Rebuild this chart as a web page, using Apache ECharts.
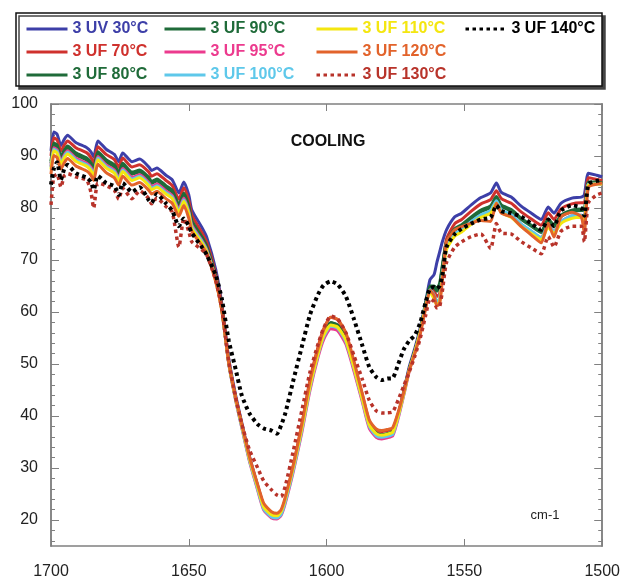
<!DOCTYPE html>
<html>
<head>
<meta charset="utf-8">
<script src="https://cdn.jsdelivr.net/npm/echarts@6/dist/echarts.min.js"></script>
<style>
  html, body { margin: 0; padding: 0; background: #fff; }
  #chart { width: 623px; height: 580px; }
</style>
</head>
<body>
<div id="chart"></div>
<script>
// wavenumber grid (cm-1)
const wavenumbers = [
  1700, 1699, 1697.8, 1696.4, 1695.2, 1694, 1691, 1687, 1685.5, 1684.5,
  1683, 1680, 1677, 1675.4, 1674, 1670.6, 1667.8, 1664.5, 1663.5, 1661.6,
  1658.3, 1656, 1653.6, 1651.8, 1650, 1648.9, 1645.3, 1643.5, 1640.2, 1638,
  1635.5, 1633, 1630.8, 1628, 1625, 1622.8, 1620, 1618, 1616.5, 1615,
  1612, 1609, 1606, 1603, 1601, 1598.5, 1596, 1593, 1590, 1587,
  1584.5, 1582, 1580, 1578, 1576, 1574, 1572, 1570, 1568, 1566,
  1564, 1562.5, 1561, 1560, 1559, 1558, 1556.5, 1553.5, 1551, 1547.5,
  1544, 1540.5, 1538.4, 1536.6, 1533, 1529.3, 1525.7, 1522.1, 1519.6, 1517.5,
  1515, 1511, 1507.6, 1506.5, 1505, 1502, 1500
];

const uv30 = [
  91.0, 94.6, 94.2, 92.0, 93.2, 94.0, 92.6, 91.6, 90.8, 89.8,
  92.9, 91.3, 90.3, 88.9, 90.6, 88.9, 89.4, 87.9, 87.2, 87.7,
  86.3, 85.4, 82.9, 85.0, 82.5, 79.6, 76.3, 74.4, 68.1, 61.5,
  51.0, 44.0, 38.8, 32.3, 26.6, 22.8, 20.8, 20.5, 21.3, 23.8,
  30.3, 37.8, 46.2, 52.5, 55.6, 57.9, 57.5, 55.0, 49.5, 43.5,
  38.6, 36.6, 36.2, 36.5, 36.8, 40.2, 44.8, 49.5, 53.0, 57.0,
  62.0, 66.2, 67.2, 69.5, 71.5, 73.5, 75.8, 78.3, 79.0, 80.6,
  82.0, 82.9, 84.8, 83.0, 82.1, 80.3, 79.0, 77.8, 80.2, 79.0,
  80.9, 81.9, 82.1, 82.5, 86.7, 86.3, 86.0
];
const uf70 = [
  90.0, 93.5, 93.1, 91.0, 92.1, 92.9, 91.6, 90.6, 89.7, 88.7,
  91.8, 90.3, 89.3, 87.8, 89.6, 87.9, 88.3, 86.9, 86.1, 86.6,
  85.3, 84.3, 81.7, 83.9, 81.4, 78.6, 75.3, 73.4, 67.3, 61.0,
  50.5, 43.6, 38.5, 32.0, 26.5, 22.9, 21.2, 21.0, 21.6, 24.0,
  30.6, 38.3, 47.0, 53.5, 56.8, 59.0, 58.5, 55.8, 50.0, 44.0,
  39.0, 37.3, 37.0, 37.2, 37.5, 40.5, 44.5, 49.0, 52.5, 56.5,
  61.5, 64.8, 64.0, 63.0, 63.5, 68.0, 74.0, 77.0, 77.8, 79.4,
  80.8, 81.6, 83.3, 81.8, 80.9, 79.2, 77.9, 76.7, 79.1, 77.8,
  79.8, 80.8, 81.0, 81.0, 85.8, 85.5, 85.3
];
const uf80 = [
  89.0, 92.5, 92.1, 90.0, 91.1, 91.9, 90.6, 89.6, 88.7, 87.6,
  90.8, 89.3, 88.3, 86.8, 88.6, 86.9, 87.3, 85.9, 85.1, 85.6,
  84.3, 83.4, 80.7, 82.9, 80.4, 77.6, 74.5, 72.7, 66.8, 60.6,
  50.3, 43.4, 38.3, 31.8, 26.3, 22.5, 20.8, 20.6, 21.4, 23.8,
  30.2, 37.8, 46.3, 52.8, 56.0, 58.0, 57.5, 55.0, 49.5, 43.6,
  38.6, 36.7, 36.4, 36.6, 37.0, 40.3, 44.5, 49.0, 52.5, 56.5,
  61.8, 65.0, 65.0, 64.5, 65.5, 69.0, 73.5, 76.0, 76.8, 78.3,
  79.6, 80.4, 82.2, 80.6, 79.7, 78.0, 76.7, 75.5, 77.9, 76.7,
  78.6, 79.6, 79.8, 79.8, 85.0, 85.0, 84.9
];
const uf90 = [
  88.6, 92.1, 91.7, 89.6, 90.7, 91.5, 90.2, 89.2, 88.3, 87.2,
  90.4, 88.9, 87.9, 86.4, 88.2, 86.5, 86.9, 85.5, 84.7, 85.2,
  83.9, 83.0, 80.3, 82.5, 80.0, 77.2, 74.2, 72.4, 66.6, 60.5,
  50.2, 43.3, 38.2, 31.7, 26.2, 22.4, 20.7, 20.5, 21.3, 23.7,
  30.1, 37.6, 46.1, 52.6, 55.8, 57.8, 57.3, 54.8, 49.3, 43.5,
  38.5, 36.6, 36.3, 36.5, 36.9, 40.2, 44.4, 48.9, 52.4, 56.4,
  61.6, 64.8, 64.7, 64.0, 65.0, 68.6, 73.2, 75.7, 76.5, 78.0,
  79.3, 80.1, 81.9, 80.3, 79.4, 77.8, 76.5, 75.3, 77.6, 76.4,
  78.3, 79.3, 79.5, 79.5, 84.8, 84.8, 84.7
];
const uf95 = [
  88.0, 91.6, 91.2, 89.0, 90.2, 91.0, 89.6, 88.6, 87.8, 86.6,
  89.9, 88.3, 87.3, 85.8, 87.6, 85.9, 86.4, 84.9, 84.1, 84.6,
  83.3, 82.4, 79.8, 81.9, 79.4, 76.7, 73.8, 72.0, 66.3, 60.4,
  50.0, 43.0, 37.8, 31.3, 25.7, 21.9, 20.4, 20.2, 20.9, 23.2,
  29.5, 36.8, 45.0, 51.5, 54.8, 56.8, 56.4, 53.8, 48.5, 42.6,
  37.6, 35.9, 35.6, 35.8, 36.2, 39.6, 44.0, 48.6, 52.2, 56.2,
  61.2, 64.2, 63.2, 62.0, 62.5, 67.0, 72.5, 75.0, 75.7, 77.3,
  78.6, 79.4, 81.3, 79.5, 78.6, 76.8, 75.5, 74.3, 76.7, 75.5,
  77.4, 78.5, 78.6, 78.3, 84.6, 84.6, 84.5
];
const uf100 = [
  87.8, 91.3, 90.9, 88.7, 89.9, 90.7, 89.3, 88.3, 87.5, 86.3,
  89.6, 88.0, 87.0, 85.5, 87.3, 85.6, 86.1, 84.6, 83.8, 84.3,
  83.0, 82.1, 79.5, 81.6, 79.1, 76.4, 73.6, 71.8, 66.2, 60.3,
  50.0, 43.1, 37.9, 31.5, 25.9, 22.1, 20.6, 20.4, 21.1, 23.5,
  29.8, 37.2, 45.5, 52.0, 55.3, 57.3, 56.9, 54.3, 49.0, 43.0,
  38.0, 36.2, 35.9, 36.1, 36.5, 39.9, 44.2, 48.8, 52.3, 56.3,
  61.3, 64.3, 63.3, 62.0, 62.6, 67.2, 72.6, 75.1, 75.8, 77.4,
  78.7, 79.5, 81.4, 79.6, 78.7, 76.9, 75.6, 74.3, 76.7, 75.5,
  77.4, 78.5, 78.6, 78.3, 84.6, 84.6, 84.6
];
const uf110 = [
  87.4, 91.0, 90.6, 88.4, 89.6, 90.4, 89.0, 88.0, 87.2, 86.1,
  89.3, 87.7, 86.7, 85.2, 87.0, 85.3, 85.8, 84.3, 83.5, 84.0,
  82.7, 81.8, 79.2, 81.3, 78.8, 76.1, 73.3, 71.6, 66.0, 60.3,
  50.2, 43.3, 38.2, 31.8, 26.3, 22.5, 21.0, 20.8, 21.6, 24.0,
  30.3, 37.6, 45.8, 52.2, 55.6, 57.5, 57.1, 54.6, 49.2, 43.2,
  38.3, 36.6, 36.3, 36.5, 36.9, 40.1, 44.3, 48.8, 52.3, 56.2,
  61.2, 63.8, 62.5, 61.3, 62.0, 66.5, 72.0, 74.6, 75.4, 76.9,
  78.2, 79.0, 80.9, 79.1, 78.2, 76.4, 75.1, 73.9, 76.3, 75.1,
  77.0, 78.0, 78.2, 77.6, 84.4, 84.6, 84.6
];
const uf120 = [
  86.5, 90.1, 89.7, 87.5, 88.7, 89.5, 88.1, 87.1, 86.3, 85.3,
  88.4, 86.8, 85.8, 84.4, 86.1, 84.4, 84.9, 83.4, 82.7, 83.2,
  81.8, 80.9, 78.4, 80.5, 78.0, 75.5, 72.8, 71.2, 65.8, 60.2,
  50.2, 43.5, 38.5, 32.2, 26.8, 23.2, 21.6, 21.3, 22.0, 24.4,
  30.8, 38.4, 46.8, 53.2, 56.7, 59.0, 58.6, 56.0, 50.4, 44.2,
  39.2, 37.5, 37.2, 37.4, 37.8, 40.8, 44.6, 48.8, 52.0, 55.8,
  60.8, 64.2, 63.2, 61.2, 61.5, 66.0, 73.5, 75.8, 76.4, 77.1,
  77.6, 77.4, 80.9, 79.0, 78.3, 76.4, 74.8, 73.3, 77.1, 74.4,
  78.3, 79.2, 78.3, 75.2, 84.0, 84.6, 84.8
];
const uf130 = [
  80.6, 86.0, 86.5, 84.0, 86.2, 86.6, 86.0, 85.3, 83.0, 80.0,
  84.8, 84.3, 83.4, 81.7, 83.8, 81.8, 83.3, 81.8, 80.8, 81.9,
  80.3, 79.2, 72.5, 78.0, 75.5, 73.5, 72.0, 71.0, 66.0, 60.5,
  50.5, 43.5, 38.5, 33.5, 30.0, 27.5, 25.8, 24.8, 24.5, 26.5,
  33.5, 41.0, 48.5, 54.0, 57.0, 59.2, 58.7, 56.0, 51.5, 47.0,
  43.0, 41.0, 40.6, 40.6, 40.8, 43.1, 45.8, 48.5, 51.5, 55.0,
  59.5, 62.5, 62.0, 60.8, 61.0, 64.0, 69.5, 72.5, 73.5, 74.5,
  75.0, 72.2, 77.0, 75.2, 75.0, 73.5, 72.3, 71.2, 74.5, 72.5,
  75.5, 76.5, 76.5, 73.5, 81.0, 82.5, 82.9
];
const uf140 = [
  84.5, 87.5, 88.8, 85.4, 87.5, 88.3, 86.7, 85.8, 85.0, 83.5,
  86.2, 84.8, 84.2, 82.5, 84.8, 83.1, 84.0, 81.5, 81.0, 82.7,
  80.9, 79.5, 76.5, 78.0, 76.5, 75.2, 72.5, 71.0, 67.0, 62.5,
  54.5, 49.0, 44.0, 40.5, 38.4, 37.6, 37.2, 36.6, 38.2, 40.5,
  47.0, 53.3, 59.5, 63.5, 65.2, 65.9, 65.3, 63.0, 58.5, 53.5,
  49.4, 47.5, 46.9, 47.2, 47.3, 50.0, 52.8, 54.5, 55.5, 58.0,
  62.0, 64.5, 64.8, 64.5, 65.0, 67.0, 72.5, 75.0, 76.0, 77.0,
  77.8, 78.2, 80.5, 79.4, 79.0, 78.3, 77.0, 75.8, 77.8, 76.5,
  79.5, 80.5, 80.0, 78.5, 84.6, 85.2, 85.4
];

const yMajorTicks = [20, 30, 40, 50, 60, 70, 80, 90, 100];
const yMinorTicks = [16, 18, 22, 24, 26, 28, 32, 34, 36, 38, 42, 44, 46, 48,
  52, 54, 56, 58, 62, 64, 66, 68, 72, 74, 76, 78, 82, 84, 86, 88, 92, 94, 96, 98];

const FONT = "Liberation Sans, Arial, sans-serif";

const seriesDefs = [
  { name: "3 UV 30°C", values: uv30, color: "#3d3fa8" },
  { name: "3 UF 70°C", values: uf70, color: "#cf312d" },
  { name: "3 UF 80°C", values: uf80, color: "#1f6b39" },
  { name: "3 UF 90°C", values: uf90, color: "#1f6b39" },
  { name: "3 UF 95°C", values: uf95, color: "#ec3a8e" },
  { name: "3 UF 100°C", values: uf100, color: "#5ec8ea" },
  { name: "3 UF 110°C", values: uf110, color: "#f4e610" },
  { name: "3 UF 120°C", values: uf120, color: "#e2632b" },
  { name: "3 UF 130°C", values: uf130, color: "#b8332a", dotted: true },
  { name: "3 UF 140°C", values: uf140, color: "#000000", dotted: true }
];

const chart = echarts.init(document.getElementById("chart"), null, { renderer: "canvas" });

function legendCol(left, names) {
  return {
    left: left,
    top: 21,
    padding: 0,
    orient: "vertical",
    itemWidth: 41,
    itemHeight: 14,
    itemGap: 7,
    selectedMode: false,
    itemStyle: { opacity: 0 },
    lineStyle: { width: 3 },
    textStyle: { fontFamily: FONT, fontSize: 16, fontWeight: "bold", lineHeight: 14 },
    data: names.map((n) => {
      const d = seriesDefs.find((s) => s.name === n);
      return { name: n, textStyle: { color: d.color } };
    })
  };
}

const axisGray = "#808080";

function yAxisPart(position, ticks, len, withLabels) {
  return {
    type: "value",
    position: position,
    min: 15,
    max: 100,
    axisLine: { show: true, lineStyle: { color: axisGray, width: 1.5 } },
    axisTick: { show: true, inside: true, length: len, customValues: ticks, lineStyle: { color: axisGray, width: 1 } },
    axisLabel: withLabels
      ? { show: true, customValues: yMajorTicks, fontFamily: FONT, fontSize: 16, color: "#222", margin: 13 }
      : { show: false },
    splitLine: { show: false }
  };
}

chart.setOption({
  animation: false,
  backgroundColor: "#fff",
  grid: { left: 51, right: 19, top: 104, bottom: 31, containLabel: false },
  legend: [
    legendCol(25, ["3 UV 30°C", "3 UF 70°C", "3 UF 80°C"]),
    legendCol(163, ["3 UF 90°C", "3 UF 95°C", "3 UF 100°C"]),
    legendCol(315, ["3 UF 110°C", "3 UF 120°C", "3 UF 130°C"]),
    legendCol(464, ["3 UF 140°C"])
  ],
  graphic: [
    {
      type: "rect",
      z: -10,
      shape: { x: 16, y: 13, width: 586, height: 73 },
      style: { fill: "#fff", stroke: "#111", lineWidth: 1.5, shadowColor: "#444", shadowOffsetX: 3, shadowOffsetY: 3, shadowBlur: 0 }
    },
    {
      type: "text",
      x: 328, y: 142,
      style: { text: "COOLING", fontFamily: FONT, fontSize: 16, fontWeight: "bold", fill: "#111", align: "center", verticalAlign: "middle" }
    },
    {
      type: "text",
      x: 545, y: 515,
      style: { text: "cm-1", fontFamily: FONT, fontSize: 13, fill: "#222", align: "center", verticalAlign: "middle" }
    }
  ],
  xAxis: [
    {
      type: "value",
      inverse: true,
      min: 1500,
      max: 1700,
      interval: 50,
      position: "bottom",
      axisLine: { show: true, lineStyle: { color: axisGray, width: 1.5 } },
      axisTick: { show: true, inside: true, length: 7, lineStyle: { color: axisGray } },
      axisLabel: { fontFamily: FONT, fontSize: 16, color: "#222", margin: 18, formatter: (v) => String(v) },
      splitLine: { show: false }
    },
    {
      type: "value",
      inverse: true,
      min: 1500,
      max: 1700,
      interval: 50,
      position: "top",
      axisLine: { show: true, lineStyle: { color: axisGray, width: 1.5 } },
      axisTick: { show: true, inside: true, length: 7, lineStyle: { color: axisGray } },
      axisLabel: { show: false },
      splitLine: { show: false }
    }
  ],
  yAxis: [
    yAxisPart("left", yMajorTicks, 8, true),
    yAxisPart("left", yMinorTicks, 4, false),
    yAxisPart("right", yMajorTicks, 8, false),
    yAxisPart("right", yMinorTicks, 4, false)
  ],
  series: seriesDefs.map((d) => ({
    name: d.name,
    type: "line",
    xAxisIndex: 0,
    yAxisIndex: 0,
    data: wavenumbers.map((w, i) => [w, d.values[i]]),
    symbol: "none",
    smooth: 0.2,
    color: d.color,
    lineStyle: d.dotted
      ? { color: d.color, width: d.name === "3 UF 140°C" ? 4 : 3.5, type: [3.5, 3.5], cap: "butt" }
      : { color: d.color, width: 3, join: "round" }
  }))
});
</script>
</body>
</html>
